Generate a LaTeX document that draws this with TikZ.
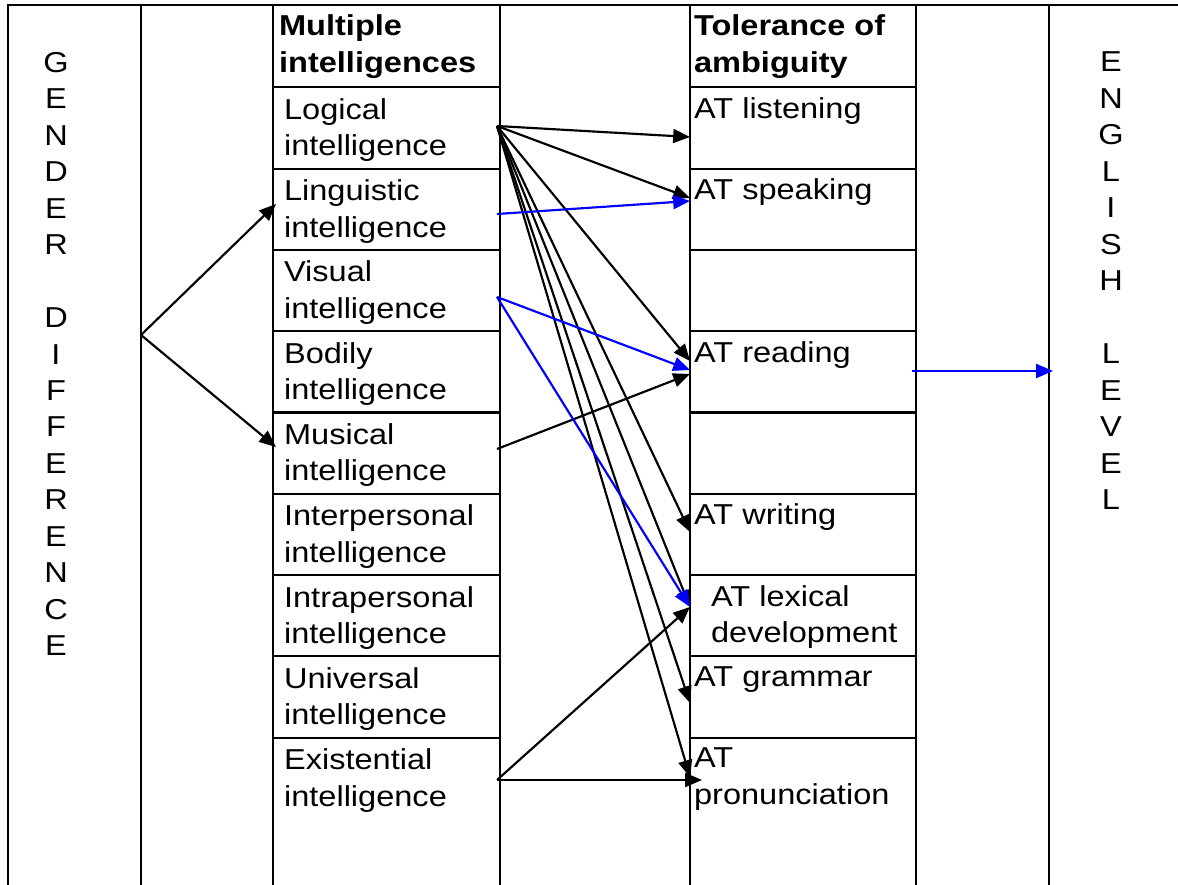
\documentclass[tikz,border=0pt]{standalone}
\usepackage{fontspec}
\setmainfont[FakeStretch=1.13]{Liberation Sans}
\usepackage{tikz}
\usetikzlibrary{arrows.meta, positioning}

\newcommand{\cellfont}{\fontsize{12pt}{15.2pt}\selectfont}

\tikzset{
  cell/.style={anchor=north west, inner sep=0pt, align=left, font=\cellfont},
  letters/.style={anchor=north, inner sep=0pt, align=center, font=\cellfont},
  link/.style={-{Triangle[length=7pt, width=5.8pt]}},
  bluelink/.style={link, blue}
}

\begin{document}
\begin{tikzpicture}[x=0.4167pt, y=-0.4167pt, line width=0.9pt]
			\useasboundingbox (0,0) rectangle (1178,885);
			% frame and columns
			\draw (8,885) -- (8,5) -- (1178,5);
			\draw (141,5) -- (141,885);
			\draw (273,5) -- (273,885);
			\draw (500,5) -- (500,885);
			\draw (690,5) -- (690,885);
			\draw (916,5) -- (916,885);
			\draw (1049,5) -- (1049,885);
			% rows
			\draw (273,87.3) -- (500,87.3) (690,87.3) -- (916,87.3);
			\draw (273,168.6) -- (500,168.6) (690,168.6) -- (916,168.6);
			\draw (273,249.9) -- (500,249.9) (690,249.9) -- (916,249.9);
			\draw (273,331.2) -- (500,331.2) (690,331.2) -- (916,331.2);
			\draw (273,412.5) -- (500,412.5) (690,412.5) -- (916,412.5);
			\draw (273,493.8) -- (500,493.8) (690,493.8) -- (916,493.8);
			\draw (273,575.1) -- (500,575.1) (690,575.1) -- (916,575.1);
			\draw (273,656.4) -- (500,656.4) (690,656.4) -- (916,656.4);
			\draw (273,737.7) -- (500,737.7) (690,737.7) -- (916,737.7);

			% side columns
			\node[letters] (gender) at (56,51) {G\\E\\N\\D\\E\\R\\[15.2pt]D\\I\\F\\F\\E\\R\\E\\N\\C\\E};
			\node[letters] (english) at (1111,51) {E\\N\\G\\L\\I\\S\\H\\[15.2pt]L\\E\\V\\E\\L};

			% multiple intelligences
			\node[cell, font=\cellfont\bfseries] (mi) at (278,14) {Multiple\\intelligences};
			\node[cell] (logical) at (283,97.3) {Logical\\intelligence};
			\node[cell] (linguistic) at (283,178.6) {Linguistic\\intelligence};
			\node[cell] (visual) at (283,259.9) {Visual\\intelligence};
			\node[cell] (bodily) at (283,341.2) {Bodily\\intelligence};
			\node[cell] (musical) at (283,422.5) {Musical\\intelligence};
			\node[cell] (interp) at (283,503.8) {Interpersonal\\intelligence};
			\node[cell] (intrap) at (283,585.1) {Intrapersonal\\intelligence};
			\node[cell] (universal) at (283,666.4) {Universal\\intelligence};
			\node[cell] (existential) at (283,747.7) {Existential\\intelligence};

			% tolerance of ambiguity
			\node[cell, font=\cellfont\bfseries] (tol) at (693,14) {Tolerance of\\ambiguity};
			\node[cell] (atlisten) at (693,96.3) {AT listening};
			\node[cell] (atspeak) at (693,177.6) {AT speaking};
			\node[cell] (atread) at (693,340.2) {AT reading};
			\node[cell] (atwrite) at (693,502.8) {AT writing};
			\node[cell] (atlex) at (710,584.1) {AT lexical\\development};
			\node[cell] (atgram) at (693,665.4) {AT grammar};
			\node[cell] (atpron) at (693,746.7) {AT\\pronunciation};

			% arrow ends
			\coordinate (gd-out) at (141,335);
			\coordinate (li-in) at (276,204);
			\coordinate (mu-in) at (276,447);
			\coordinate (lo-out) at (497,126);
			\coordinate (li-out) at (497,214);
			\coordinate (vi-out) at (497,297);
			\coordinate (mu-out) at (497,449);
			\coordinate (ex-out) at (497,780);
			\coordinate (ls-in) at (690,137);
			\coordinate (sp-in) at (690,198);
			\coordinate (sp-in2) at (690,201);
			\coordinate (rd-in) at (690,361);
			\coordinate (rd-in2) at (690,370);
			\coordinate (rd-in3) at (690,374);
			\coordinate (wr-in) at (690,532);
			\coordinate (lx-in) at (690,607);
			\coordinate (gr-in) at (690,703);
			\coordinate (pr-in) at (690,777);
			\coordinate (pr-in2) at (702,780);
			\coordinate (rd-out) at (912,371);
			\coordinate (en-in) at (1053,371);

			\draw[link] (gd-out) -- (li-in);
			\draw[link] (gd-out) -- (mu-in);
			\draw[link] (lo-out) -- (ls-in);
			\draw[link] (lo-out) -- (sp-in);
			\draw[link] (lo-out) -- (rd-in);
			\draw[link] (lo-out) -- (wr-in);
			\draw[link] (lo-out) -- (lx-in);
			\draw[link] (lo-out) -- (gr-in);
			\draw[link] (lo-out) -- (pr-in);
			\draw[link] (mu-out) -- (rd-in3);
			\draw[link] (ex-out) -- (lx-in);
			\draw[link] (ex-out) -- (pr-in2);
			\draw[bluelink] (li-out) -- (sp-in2);
			\draw[bluelink] (vi-out) -- (rd-in2);
			\draw[bluelink] (vi-out) -- (lx-in);
			\draw[bluelink] (rd-out) -- (en-in);
\end{tikzpicture}
\end{document}
